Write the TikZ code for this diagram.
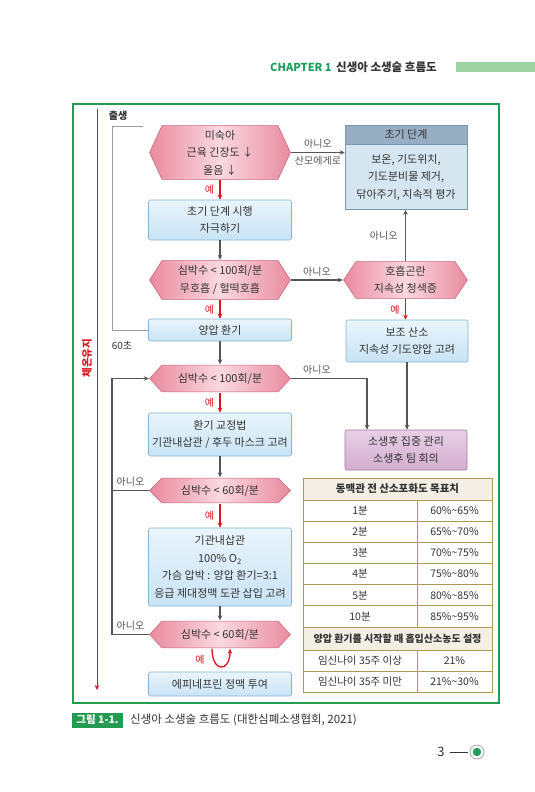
\documentclass[tikz,border=0pt]{standalone}
\usepackage{fontspec}
\setmainfont{Noto Sans CJK KR}
\usepackage{xcolor}
\usetikzlibrary{arrows.meta,positioning}

\definecolor{hexedge}{HTML}{E98A9E}
\definecolor{hexmid}{HTML}{FAD8E0}
\definecolor{hexline}{HTML}{C96A80}
\definecolor{boxtop}{HTML}{EAF5FC}
\definecolor{boxbot}{HTML}{C8E3F4}
\definecolor{boxline}{HTML}{86B3D1}
\definecolor{stephead}{HTML}{98AFC3}
\definecolor{stepbody}{HTML}{D5E6F1}
\definecolor{stepline}{HTML}{7D95AA}
\definecolor{purptop}{HTML}{E8D0E6}
\definecolor{purpbot}{HTML}{D3ADD0}
\definecolor{purpline}{HTML}{A07A9D}
\definecolor{yesred}{HTML}{D8141F}
\definecolor{nogray}{HTML}{555555}
\definecolor{framegreen}{HTML}{239B50}
\definecolor{chapgreen}{HTML}{1AA05A}
\definecolor{chapbar}{HTML}{9DD3A3}
\definecolor{tabline}{HTML}{B09A52}
\definecolor{tabhead}{HTML}{F3EFE5}
\definecolor{textgray}{HTML}{333333}

\begin{document}
\begin{tikzpicture}[
    x=1pt, y=-1pt,
    font=\fontsize{11}{17.5}\selectfont,
    text=textgray,
    hexa/.style={
      shape=rectangle, inner sep=0pt, align=center,
      minimum width=142pt, minimum height=#1,
      path picture={
        \shadedraw[left color=hexedge, right color=hexedge, middle color=hexmid, draw=hexline, line width=0.6pt]
          ([xshift=0.6pt]path picture bounding box.west)
          -- ([xshift=13pt,yshift=-0.6pt]path picture bounding box.north west)
          -- ([xshift=-13pt,yshift=-0.6pt]path picture bounding box.north east)
          -- ([xshift=-0.6pt]path picture bounding box.east)
          -- ([xshift=-13pt,yshift=0.6pt]path picture bounding box.south east)
          -- ([xshift=13pt,yshift=0.6pt]path picture bounding box.south west)
          -- cycle;
      }
    },
    flowbox/.style={
      draw=boxline, line width=0.6pt, top color=boxtop, bottom color=boxbot,
      rounded corners=2pt, inner sep=0pt, align=center,
      minimum width=143pt, minimum height=#1
    },
    stephd/.style={
      draw=stepline, line width=0.6pt, fill=stephead, inner sep=0pt,
      minimum width=122pt, minimum height=19pt
    },
    stepbd/.style={
      draw=stepline, line width=0.6pt, fill=stepbody, inner sep=0pt, align=center,
      minimum width=122pt, minimum height=65pt
    },
    purpbox/.style={
      draw=purpline, line width=0.6pt, top color=purptop, bottom color=purpbot,
      rounded corners=2pt, inner sep=0pt, align=center,
      minimum width=122pt, minimum height=40pt
    },
    yesarrow/.style={-{Stealth[length=5pt,width=4.5pt]}, yesred, line width=1.3pt},
    noarrow/.style={-{Stealth[length=5pt,width=4.5pt]}, nogray, line width=1.2pt},
    bracket/.style={draw=gray!75, line width=1pt},
    yeslbl/.style={text=yesred, font=\fontsize{10}{10}\selectfont, left, xshift=-2pt},
    nolbl/.style={font=\fontsize{10}{10}\selectfont},
    tabcell/.style={font=\fontsize{10.5}{10.5}\selectfont, inner sep=0pt},
    tabline/.style={draw=tabline, line width=0.8pt}
  ]
  \fill[white] (0,0) rectangle (535,792);
  \useasboundingbox (0,0) rectangle (535,792);

  % page header
  \node[anchor=west, text=chapgreen, font=\fontsize{11}{11}\selectfont\bfseries, inner sep=0pt] (chap) at (270,67) {CHAPTER 1};
  \node[anchor=west, font=\fontsize{11.5}{11.5}\selectfont\bfseries, inner sep=0pt] (chaptitle) at (336,67) {신생아 소생술 흐름도};
  \fill[chapbar] (456,62) rectangle (535,72);

  % frame
  \draw[framegreen, line width=1.1pt] (73,104) rectangle (499,703);

  % main column
  \node[hexa=55pt] (h1) at (220,152.5) {미숙아\\근육 긴장도 ↓\\울음 ↓};
  \node[flowbox=40pt] (b2) at (220,220) {초기 단계 시행\\자극하기};
  \node[hexa=40pt] (h3) at (220,280) {심박수 < 100회/분\\무호흡 / 헐떡호흡};
  \node[flowbox=22pt] (b4) at (220,330) {양압 환기};
  \node[hexa=28pt] (h5) at (220,378.5) {심박수 < 100회/분};
  \node[flowbox=43pt] (b6) at (220,434.5) {환기 교정법\\기관내삽관 / 후두 마스크 고려};
  \node[hexa=26pt] (h7) at (220,490.5) {심박수 < 60회/분};
  \node[flowbox=78pt] (b8) at (220,567) {기관내삽관\\100\% O\textsubscript{2}\\가슴 압박 : 양압 환기=3:1\\응급 제대정맥 도관 삽입 고려};
  \node[hexa=28pt] (h9) at (220,634.5) {심박수 < 60회/분};
  \node[flowbox=24pt] (b10) at (220,684) {에피네프린 정맥 투여};

  % right column
  \node[stephd] (r1h) at (406,134.5) {초기 단계};
  \node[stepbd, below=0pt of r1h] (r1) {보온, 기도위치,\\기도분비물 제거,\\닦아주기, 지속적 평가};
  \node[hexa=38pt, minimum width=125pt] (r2) at (405.5,280) {호흡곤란\\지속성 청색증};
  \node[flowbox=42pt, minimum width=122pt] (r3) at (407,341) {보조 산소\\지속성 기도양압 고려};
  \node[purpbox] (r4) at (406,450) {소생후 집중 관리\\소생후 팀 회의};

  % main flow
  \draw[yesarrow] (h1) -- (b2) node[yeslbl, midway] {예};
  \draw[noarrow] (b2) -- (h3);
  \draw[yesarrow] (h3) -- (b4) node[yeslbl, midway] {예};
  \draw[noarrow] (b4) -- (h5);
  \draw[yesarrow] (h5) -- (b6) node[yeslbl, midway] {예};
  \draw[noarrow] (b6) -- (h7);
  \draw[yesarrow] (h7) -- (b8) node[yeslbl, midway] {예};
  \draw[noarrow] (b8) -- (h9);
  \draw[yesarrow] ([xshift=-8pt]h9.south) .. controls +(0,-24pt) and +(0,-24pt) .. ([xshift=10pt]h9.south);
  \node[yeslbl] (y9) at (210,660) {예};

  % side branches
  \draw[noarrow] (h1.east) -- (h1.east -| r1.west)
    node[nolbl, midway, above] {아니오} node[nolbl, midway, below] {산모에게로};
  \draw[noarrow] (h3) -- (r2) node[nolbl, midway, above] {아니오};
  \draw[noarrow] (r2.north) -- (r2.north |- r1.south) node[nolbl, midway, left, xshift=-4pt] {아니오};
  \draw[yesarrow] (r2.south) -- (r2.south |- r3.north) node[yeslbl, midway] {예};
  \draw[noarrow] (r3.south) -- (r3.south |- r4.north);
  \draw[noarrow] (h5.east) -| ([xshift=-39pt]r4.north) node[nolbl, pos=0.17, above] {아니오};

  % left loops
  \coordinate (loopx) at (112,0);
  \draw[nogray, line width=1.2pt] (h7.west) -- node[nolbl, above] {아니오} (h7.west -| loopx);
  \draw[noarrow] (h9.west) -- node[nolbl, above] {아니오} (h9.west -| loopx) |- (h5.west);

  % first 60 seconds
  \coordinate (birth) at (143,126);
  \node[font=\fontsize{10}{10}\selectfont\bfseries] (lbirth) at (118,116) {출생};
  \draw[bracket] (birth) -- (birth -| loopx) |- (b4.west);
  \node[font=\fontsize{10}{10}\selectfont] (l60) at (122,346) {60초};

  % temperature
  \coordinate (warmtop) at (97,109);
  \coordinate (warmend) at (97,690);
  \draw[yesarrow, line width=1pt] (warmtop) -- (warmend);
  \node[rotate=90, text=yesred, font=\fontsize{10.5}{10.5}\selectfont\bfseries] (warm) at (87,358) {체온유지};

  % target table
  \fill[tabhead] (303,478) rectangle (492,500);
  \fill[tabhead] (303,627) rectangle (492,650);
  \draw[tabline] (303,478) rectangle (492,692);
  \foreach \yy in {500,521.2,542.3,563.5,584.7,605.8,627,650,671}
    \draw[tabline] (303,\yy) -- (492,\yy);
  \draw[tabline] (417,500) -- (417,627);
  \draw[tabline] (417,650) -- (417,692);
  \node[tabcell, font=\fontsize{10.5}{10.5}\selectfont\bfseries] (th1) at (397.5,489) {동맥관 전 산소포화도 목표치};
  \foreach \tm/\sat [count=\i] in {1분/60\%\textasciitilde65\%, 2분/65\%\textasciitilde70\%, 3분/70\%\textasciitilde75\%, 4분/75\%\textasciitilde80\%, 5분/80\%\textasciitilde85\%, 10분/85\%\textasciitilde95\%} {
    \node[tabcell] (ta\i) at (360,489.4+21.17*\i) {\tm};
    \node[tabcell] (tb\i) at (454.5,489.4+21.17*\i) {\sat};
  }
  \node[tabcell, font=\fontsize{10}{10}\selectfont\bfseries] (th2) at (397.5,638.5) {양압 환기를 시작할 때 흡입산소농도 설정};
  \node[tabcell] (tc1) at (360,660.5) {임신나이 35주 이상};
  \node[tabcell] (td1) at (454.5,660.5) {21\%};
  \node[tabcell] (tc2) at (360,681.5) {임신나이 35주 미만};
  \node[tabcell] (td2) at (454.5,681.5) {21\%\textasciitilde30\%};

  % caption
  \node[fill=framegreen, text=white, font=\fontsize{10.5}{10.5}\selectfont\bfseries, minimum width=51pt, minimum height=15pt, inner sep=0pt] (figtag) at (97.5,720) {그림 1-1.};
  \node[anchor=west, font=\fontsize{11.5}{11.5}\selectfont, inner sep=0pt] (figcap) at (130,720) {신생아 소생술 흐름도 (대한심폐소생협회, 2021)};

  % page number
  \node[font=\fontsize{13}{13}\selectfont, inner sep=0pt] (pageno) at (441,752) {3};
  \draw[textgray, line width=0.8pt] (450,752) -- (468,752);
  \draw[gray!70, line width=0.8pt, fill=white] (477,752) circle (7);
  \fill[chapgreen] (477,752) circle (4.2);
\end{tikzpicture}
\end{document}
